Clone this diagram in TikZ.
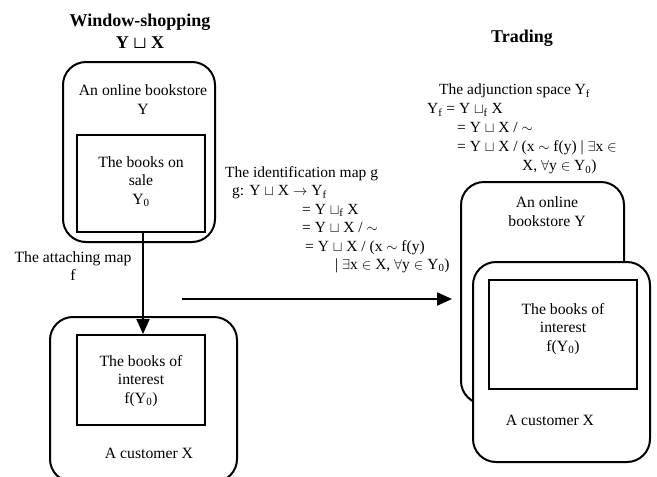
\documentclass[tikz,border=0pt]{standalone}
\usepackage{fontspec}
\setmainfont{Liberation Serif}
\usetikzlibrary{arrows.meta}
\newcommand{\dsu}{$\sqcup$}
\begin{document}
\begin{tikzpicture}[x=1pt,y=-1pt,
  outer/.style={draw, line width=2pt, rounded corners=23pt, inner sep=0pt},
  inner/.style={draw, line width=2pt, inner sep=0pt},
  txt/.style={font=\fontsize{15.7}{18.5}\selectfont, inner sep=0pt, align=center},
  ttl/.style={font=\fontsize{18}{22}\selectfont\bfseries, inner sep=0pt, align=center},
  blk/.style={font=\fontsize{15.5}{18.5}\selectfont, inner sep=0pt, align=left, anchor=north west},
  arr/.style={line width=2pt, -{Triangle[length=15pt,width=13pt]}}]
\useasboundingbox (0,0) rectangle (657,477);
\begin{scope}
\clip (0,0) rectangle (657,477);
% left column
\node[ttl] (t1) at (140,31) {Window-shopping\\Y {\boldmath\dsu} X};
\node[outer, minimum width=152pt, minimum height=180pt] (tlout) at (139,152) {};
\node[inner, minimum width=128pt, minimum height=97pt] (tlin) at (141,183.5) {};
\node[txt] (tltxt) at (143,99.5) {An online bookstore\\Y};
\node[txt] (tlintxt) at (141,181.5) {The books on\\sale\\Y\textsubscript{0}};
\node[outer, minimum width=187pt, minimum height=165pt] (blout) at (143.5,399.5) {};
\node[inner, minimum width=128pt, minimum height=90pt] (blin) at (141,380) {};
\node[txt] (blintxt) at (141,381) {The books of\\interest\\f(Y\textsubscript{0})};
\node[txt] (bltxt) at (149,453) {A customer X};
\node[txt] (attach) at (73,266) {The attaching map\\f};
\draw[arr] ([xshift=2pt]tlin.south) -- ([xshift=2pt]blin.north);
% middle
\node[blk] (mid) at (225,166) {The identification map g\\
\hspace*{7pt}g: Y \dsu{} X $\rightarrow$ Y\textsubscript{f}\\
\hspace*{77pt}= Y \dsu\textsubscript{f} X\\
\hspace*{77pt}= Y \dsu{} X / $\sim$\\
\hspace*{80pt}= Y \dsu{} X / (x $\sim$ f(y)\\
\hspace*{110pt}| $\exists$x $\in$ X, $\forall$y $\in$ Y\textsubscript{0})};
\coordinate (ha) at (182,299);
\coordinate (hb) at (452,299);
\draw[arr] (ha) -- (hb);
% right column
\node[ttl] (t2) at (522,38) {Trading};
\node[blk, font=\fontsize{15.5}{19}\selectfont] (adj) at (427,84) {\hspace*{12pt}The adjunction space Y\textsubscript{f}\\
Y\textsubscript{f} = Y \dsu\textsubscript{f} X\\
\hspace*{30pt}= Y \dsu{} X / $\sim$\\
\hspace*{30pt}= Y \dsu{} X / (x $\sim$ f(y) | $\exists$x $\in$\\
\hspace*{95pt}X, $\forall$y $\in$ Y\textsubscript{0})};
\node[outer, minimum width=163pt, minimum height=222pt] (trout) at (542.5,293) {};
\node[txt] (trtxt) at (547,211.5) {An online\\bookstore Y};
\node[outer, fill=white, minimum width=177pt, minimum height=200pt] (frout) at (561.5,362) {};
\node[inner, minimum width=148pt, minimum height=109pt] (frin) at (563,334.5) {};
\node[txt] (frintxt) at (563,329) {The books of\\interest\\f(Y\textsubscript{0})};
\node[txt] (frtxt) at (550,420) {A customer X};
\end{scope}
\end{tikzpicture}
\end{document}
